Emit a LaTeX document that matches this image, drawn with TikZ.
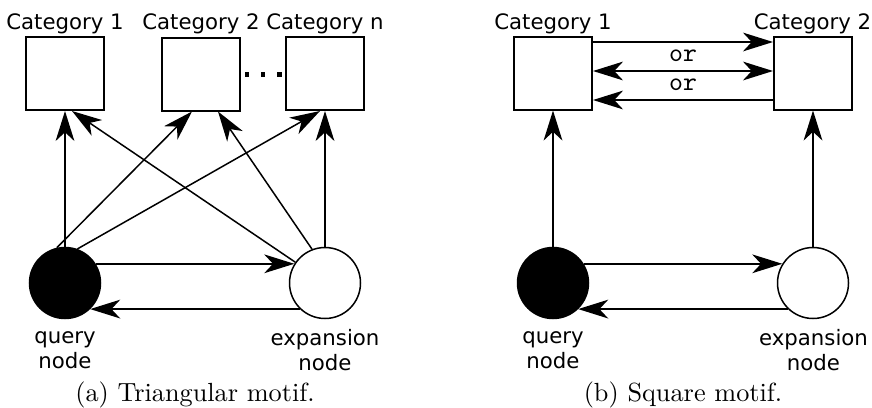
\documentclass[tikz,border=0pt]{standalone}
\usepackage{fontspec}
\setsansfont{DejaVu Sans}
\usepackage{tikz}
\usetikzlibrary{arrows.meta, positioning}

\begin{document}
\begin{tikzpicture}[x=0.4pt, y=-0.4pt,
		>={Stealth[length=12pt, width=7.5pt, inset=3.5pt]},
		->,
		line width=0.6pt,
		cat/.style={draw, -, line width=0.8pt, minimum width=31.2pt, minimum height=29.2pt, inner sep=0pt},
		qnode/.style={circle, -, fill=black, draw=black, minimum size=28.4pt, inner sep=0pt},
		enode/.style={circle, -, fill=white, draw=black, minimum size=28.4pt, inner sep=0pt},
		txt/.style={font=\sffamily\fontsize{8.5}{10}\selectfont, align=center, inner sep=0pt},
		ortxt/.style={font=\ttfamily\fontsize{10.6}{10}\selectfont, inner sep=0pt},
		captxt/.style={font=\fontsize{10.5}{12}\selectfont, inner sep=0pt}]

	\useasboundingbox (0,0) rectangle (872,407);

	% (a) triangular motif
	\node[cat] (a1) at (65,73.5) {};
	\node[cat] (a2) at (201,74) {};
	\node[cat] (an) at (325,73.5) {};
	\node[txt, anchor=base] (la1) at (65,29) {Category 1};
	\node[txt, anchor=base] (la2) at (201,29) {Category 2};
	\node[txt, anchor=base] (lan) at (325,29) {Category n};
	\foreach \x in {247,263,279.5}
		\fill (\x-2.2,71.5) rectangle (\x+2.2,76.5);

	\node[qnode] (aq) at (65,283) {};
	\node[enode] (ae) at (325,283) {};
	\node[txt, anchor=north] (laq) at (65,331) {query\\node};
	\node[txt, anchor=north] (lae) at (325,329) {expansion\\node};

	\draw (aq.north) -- (a1.south);
	\draw (aq.103) -- ([xshift=-3.6pt]a2.south);
	\draw (aq.70) -- ([xshift=-2pt]an.south);
	\draw (ae.145) -- ([xshift=2.8pt]a1.south);
	\draw (ae.111) -- ([xshift=6.8pt]a2.south);
	\draw (ae.north) -- (an.south);
	\draw (aq.32) -- (ae.148);
	\draw (ae.226) -- (aq.-46);

	\node[captxt, anchor=base] (capa) at (195,401) {(a) Triangular motif.};

	% (b) square motif
	\node[cat] (b1) at (553,73) {};
	\node[cat] (b2) at (813,73) {};
	\node[txt, anchor=base] (lb1) at (553,29) {Category 1};
	\node[txt, anchor=base] (lb2) at (812.5,29) {Category 2};

	\draw ([yshift=12.4pt]b1.east) -- ([yshift=12.4pt]b2.west);
	\draw[<->] ([yshift=0.8pt]b1.east) -- ([yshift=0.8pt]b2.west);
	\draw ([yshift=-10.8pt]b2.west) -- ([yshift=-10.8pt]b1.east);
	\node[ortxt] (or1) at (683,56) {or};
	\node[ortxt] (or2) at (683,85) {or};

	\node[qnode] (bq) at (553,283) {};
	\node[enode] (be) at (813,283) {};
	\node[txt, anchor=north] (lbq) at (553,331) {query\\node};
	\node[txt, anchor=north] (lbe) at (813.5,329) {expansion\\node};

	\draw (bq.north) -- (b1.south);
	\draw (be.north) -- (b2.south);
	\draw (bq.32) -- (be.148);
	\draw (be.226) -- (bq.-46);

	\node[captxt, anchor=base] (capb) at (683,401) {(b) Square motif.};
\end{tikzpicture}
\end{document}
